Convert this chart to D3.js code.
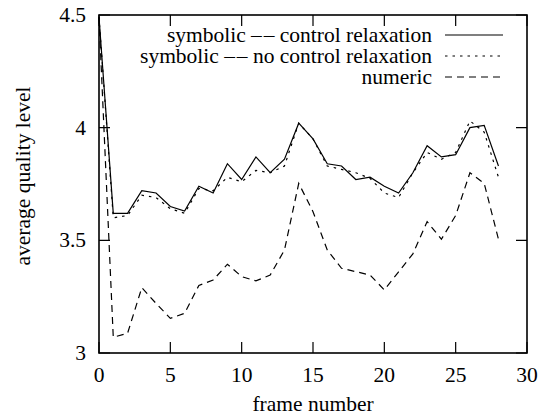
<!DOCTYPE html>
<html>
<head>
<meta charset="utf-8">
<script src="https://cdn.jsdelivr.net/npm/d3@7"></script>
</head>
<body style="margin:0">
<svg width="552" height="416"></svg>
<script>
var frames = d3.range(0, 29);
var seriesNames = ["symbolic \u2013\u200a\u2013 control relaxation", "symbolic \u2013\u200a\u2013 no control relaxation", "numeric"];
var controlRelax = [4.49, 3.62, 3.62, 3.72, 3.71, 3.65, 3.63, 3.74, 3.71, 3.84, 3.77, 3.87, 3.80, 3.86, 4.02, 3.95, 3.84, 3.83, 3.77, 3.78, 3.74, 3.71, 3.80, 3.92, 3.87, 3.88, 4.00, 4.01, 3.83];
var noControlRelax = [4.49, 3.60, 3.61, 3.70, 3.69, 3.64, 3.62, 3.73, 3.72, 3.78, 3.76, 3.81, 3.80, 3.83, 4.02, 3.95, 3.83, 3.815, 3.80, 3.775, 3.71, 3.69, 3.80, 3.89, 3.86, 3.89, 4.03, 3.98, 3.78];
var numeric = [4.49, 3.07, 3.087, 3.29, 3.22, 3.154, 3.176, 3.30, 3.324, 3.394, 3.339, 3.32, 3.346, 3.457, 3.753, 3.627, 3.457, 3.376, 3.361, 3.346, 3.28, 3.36, 3.44, 3.583, 3.505, 3.61, 3.80, 3.753, 3.505];
var xTicks = [0, 5, 10, 15, 20, 25, 30];
var yTicks = [3, 3.5, 4, 4.5];

// same font setup as the y title, which is the one text that came out serif
var font = "'Liberation Serif'", fontSize = "21.5px";

var svg = d3.select("svg"),
    margin = {top: 15, right: 25, bottom: 63, left: 99},
    width = +svg.attr("width") - margin.left - margin.right,
    height = +svg.attr("height") - margin.top - margin.bottom;

var x = d3.scaleLinear().domain([0, 30]).range([0, width]),
    y = d3.scaleLinear().domain([3, 4.5]).range([height, 0]);

var g = svg.append("g")
    .attr("transform", "translate(" + margin.left + "," + margin.top + ")");

var tickLen = 11;

// ticks on all four sides, pointing inwards
g.selectAll(".xt").data(xTicks).enter().append("path")
    .attr("d", function(d) { return "M" + x(d) + "," + height + "v" + (-tickLen) + "M" + x(d) + ",0v" + tickLen; })
    .attr("stroke", "#000").attr("stroke-width", 1.2);
g.selectAll(".yt").data(yTicks).enter().append("path")
    .attr("d", function(d) { return "M0," + y(d) + "h" + tickLen + "M" + width + "," + y(d) + "h" + (-tickLen); })
    .attr("stroke", "#000").attr("stroke-width", 1.2);

g.selectAll(".xl").data(xTicks).enter().append("text")
    .attr("transform", function(d) { return "translate(" + x(d) + "," + (height + 29) + ")"; })
    .attr("text-anchor", "middle")
    .style("font-family", font)
    .style("font-size", fontSize)
    .text(function(d) { return d; });
g.selectAll(".yl").data(yTicks).enter().append("text")
    .attr("transform", function(d) { return "translate(-13," + (y(d) + 7) + ")"; })
    .attr("text-anchor", "end")
    .style("font-family", font)
    .style("font-size", fontSize)
    .text(function(d) { return d; });

g.append("text")
    .attr("transform", "translate(" + (width / 2) + "," + (height + 58) + ")")
    .attr("text-anchor", "middle")
    .style("font-family", font)
    .style("font-size", fontSize)
    .text("frame number");
g.append("text")
    .attr("transform", "translate(-69," + (height / 2 - 8) + ") rotate(-90)")
    .attr("text-anchor", "middle")
    .style("font-family", font)
    .style("font-size", fontSize)
    .text("average quality level");

var line = d3.line()
    .x(function(d, i) { return x(frames[i]); })
    .y(function(d) { return y(d); });

var styles = [
  {data: controlRelax, dash: null},
  {data: noControlRelax, dash: "2.5,5"},
  {data: numeric, dash: "7,5"}
];

g.selectAll(".series").data(styles).enter().append("path")
    .attr("fill", "none")
    .attr("stroke", "#000")
    .attr("stroke-width", 1.2)
    .attr("stroke-dasharray", function(d) { return d.dash; })
    .attr("d", function(d) { return line(d.data); });

// legend
var legend = g.selectAll(".legend").data(styles).enter().append("g")
    .attr("transform", function(d, i) { return "translate(0," + (20 + i * 21) + ")"; });
legend.append("text")
    .attr("transform", "translate(333,7)")
    .attr("text-anchor", "end")
    .style("font-family", font)
    .style("font-size", fontSize)
    .text(function(d, i) { return seriesNames[i]; });
legend.append("path")
    .attr("d", "M346,0H404")
    .attr("stroke", "#000")
    .attr("stroke-width", 1.2)
    .attr("stroke-dasharray", function(d) { return d.dash; });

// frame
g.append("rect")
    .attr("width", width).attr("height", height)
    .attr("fill", "none")
    .attr("stroke", "#000")
    .attr("stroke-width", 1.6);
</script>
</body>
</html>
